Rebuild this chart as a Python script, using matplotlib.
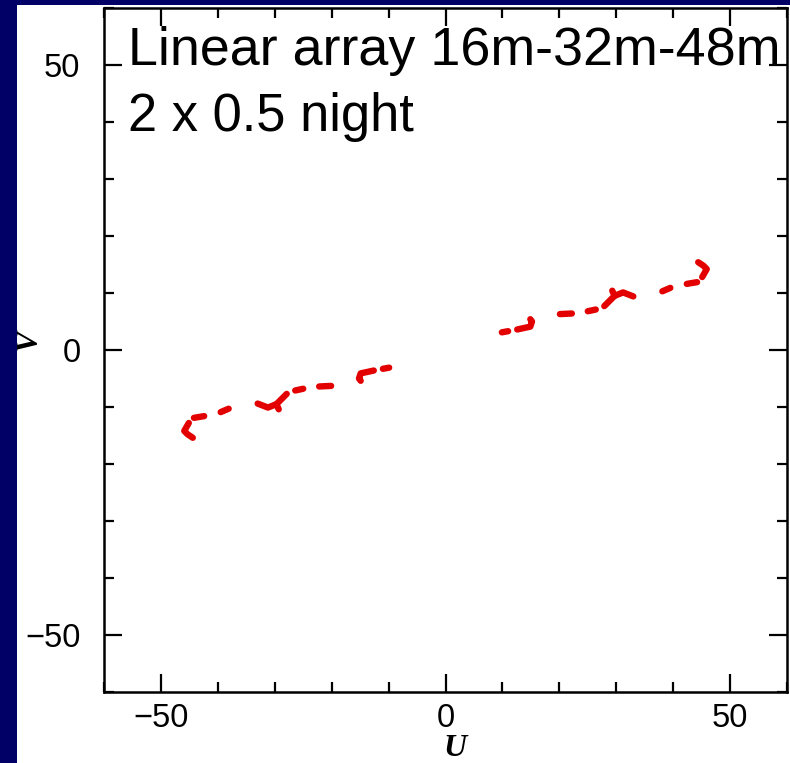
import matplotlib
matplotlib.use("Agg")
import matplotlib.pyplot as plt
from matplotlib.patches import Rectangle
from matplotlib.ticker import MultipleLocator

plt.rcParams["font.family"] = ["Liberation Sans", "DejaVu Sans"]

# ---- data: uv-track segments (u, v) in metres ----
# positive-u half of the coverage
right_segments = [
    [(9.9, 3.1), (11.0, 3.3)],
    [(12.6, 3.6), (14.9, 4.1), (15.2, 5.0), (14.9, 5.4)],
    [(20.1, 6.3), (22.2, 6.4)],
    [(25.0, 6.8), (26.4, 7.1)],
    [(27.9, 7.7), (28.8, 8.6), (29.7, 9.5), (29.3, 10.4)],
    [(29.7, 9.5), (31.2, 10.1), (33.0, 9.4)],
    [(38.1, 10.3), (39.5, 10.9)],
    [(42.4, 11.6), (44.2, 11.9)],
    [(45.1, 12.8), (45.9, 14.2), (45.3, 14.8), (44.4, 15.4)],
]
# negative-u half (conjugate points)
left_segments = [
    [(-9.9, -3.1), (-11.0, -3.3)],
    [(-12.6, -3.6), (-14.9, -4.1), (-15.2, -5.0), (-14.9, -5.4)],
    [(-20.1, -6.3), (-22.2, -6.4)],
    [(-25.0, -6.8), (-26.4, -7.1)],
    [(-27.9, -7.7), (-28.8, -8.6), (-29.7, -9.5), (-29.3, -10.4)],
    [(-29.7, -9.5), (-31.2, -10.1), (-33.0, -9.4)],
    [(-38.1, -10.3), (-39.5, -10.9)],
    [(-42.4, -11.6), (-44.2, -11.9)],
    [(-45.1, -12.8), (-45.9, -14.2), (-45.3, -14.8), (-44.4, -15.4)],
]
x_ticks = [-50, 0, 50]
y_ticks = [-50, 0, 50]
title_lines = ["Linear array 16m-32m-48m", "2 x 0.5 night"]

W, H = 790, 763
fig = plt.figure(figsize=(W / 100, H / 100), dpi=100, facecolor="white")
navy = "#000066"
fig.patches.append(Rectangle((0, 0), 17 / W, 1, transform=fig.transFigure,
                             facecolor=navy, edgecolor="none", zorder=10))
fig.patches.append(Rectangle((0, 1 - 5 / H), 1, 5 / H, transform=fig.transFigure,
                             facecolor=navy, edgecolor="none", zorder=10))

ax = fig.add_axes([104 / W, 1 - 692 / H, (787 - 104) / W, (692 - 8) / H])
ax.set_xlim(-60, 60)
ax.set_ylim(-60, 60)

red = "#e30000"
for seg in right_segments + left_segments:
    us = [p[0] for p in seg]
    vs = [p[1] for p in seg]
    ax.plot(us, vs, color=red, lw=4.6, solid_capstyle="round",
            solid_joinstyle="round")

ax.set_xticks(x_ticks)
ax.set_yticks(y_ticks)
ax.set_xticklabels([f"\u2212{abs(t)}" if t < 0 else str(t) for t in x_ticks])
ax.set_yticklabels([f"\u2212{abs(t)}" if t < 0 else str(t) for t in y_ticks])
ax.xaxis.set_minor_locator(MultipleLocator(10))
ax.yaxis.set_minor_locator(MultipleLocator(10))
ax.tick_params(which="both", direction="in", top=True, right=True,
               width=1.6, colors="black", labelsize=23.5)
ax.tick_params(which="major", length=13)
ax.tick_params(which="minor", length=7)
ax.tick_params(axis="x", which="major", pad=8)
ax.tick_params(axis="y", which="major", pad=17)
for sp in ax.spines.values():
    sp.set_linewidth(1.8)

fig.text(128 / W, 1 - 65 / H, title_lines[0], fontsize=38.8,
         va="baseline", ha="left", color="black")
fig.text(128 / W, 1 - 131 / H, title_lines[1], fontsize=37.8,
         va="baseline", ha="left", color="black")

fig.text(455 / W, 1 - 748 / H, "U", fontsize=23, family="Liberation Serif",
         style="italic", weight="bold", ha="center", va="center")
fig.text(29 / W, 1 - 340 / H, "V", fontsize=23, family="Liberation Serif",
         style="italic", weight="bold", ha="center", va="center", rotation=90)

fig.savefig("out.png", dpi=100, facecolor="white")
